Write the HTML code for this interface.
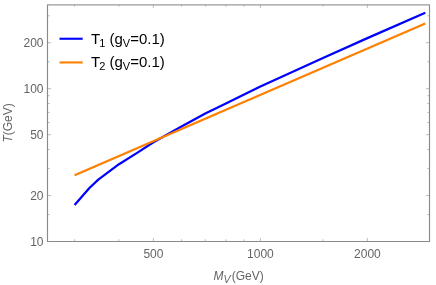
<!DOCTYPE html><html><head><meta charset="utf-8"><style>html,body{margin:0;padding:0;background:#fff}svg{display:block;will-change:transform;opacity:0.999}text{font-family:"Liberation Sans",sans-serif}</style></head><body>
<svg width="436" height="285" viewBox="0 0 436 285">
<rect width="436" height="285" fill="#fff"/>
<path d="M153.40 241.5v-3.6M153.40 4.5v3.6M260.39 241.5v-3.6M260.39 4.5v3.6M367.37 241.5v-3.6M367.37 4.5v3.6M74.55 241.5v-2.2M74.55 4.5v2.2M118.96 241.5v-2.2M118.96 4.5v2.2M181.54 241.5v-2.2M181.54 4.5v2.2M205.33 241.5v-2.2M205.33 4.5v2.2M225.94 241.5v-2.2M225.94 4.5v2.2M244.12 241.5v-2.2M244.12 4.5v2.2M322.97 241.5v-2.2M322.97 4.5v2.2M47.5 241.50h3.6M429.5 241.50h-3.6M47.5 195.50h3.6M429.5 195.50h-3.6M47.5 134.70h3.6M429.5 134.70h-3.6M47.5 88.70h3.6M429.5 88.70h-3.6M47.5 42.70h3.6M429.5 42.70h-3.6M47.5 214.59h2.2M429.5 214.59h-2.2M47.5 168.60h2.2M429.5 168.60h-2.2M47.5 149.51h2.2M429.5 149.51h-2.2M47.5 122.60h2.2M429.5 122.60h-2.2M47.5 112.37h2.2M429.5 112.37h-2.2M47.5 103.51h2.2M429.5 103.51h-2.2M47.5 95.69h2.2M429.5 95.69h-2.2M47.5 61.79h2.2M429.5 61.79h-2.2M47.5 15.80h2.2M429.5 15.80h-2.2" stroke="#7c7c7c" stroke-width="0.5" fill="none"/>
<path d="M47.5 4.9V241.5H429.5V4.9" fill="none" stroke="#8a8a8a" stroke-width="1.15" stroke-linejoin="miter"/>
<path d="M46.93 4.9H430.07" fill="none" stroke="#9a9a9a" stroke-width="1.15"/>
<polyline points="74.6,205.0 89.4,188.0 98.3,179.6 119.0,164.2 137.1,152.9 153.4,142.3 181.5,126.6 205.3,113.4 225.9,103.4 244.1,94.5 260.4,86.6 323.0,58.0 367.4,38.1 425.3,12.7" fill="none" stroke="#0000ff" stroke-width="2.25" stroke-linejoin="round"/>
<polyline points="74.6,175.2 425.3,23.5" fill="none" stroke="#ff8000" stroke-width="2.25" stroke-linejoin="round"/>
<text x="153.4" y="257.5" font-size="12" fill="#646464" text-anchor="middle">500</text>
<text x="260.4" y="257.5" font-size="12" fill="#646464" text-anchor="middle">1000</text>
<text x="367.4" y="257.5" font-size="12" fill="#646464" text-anchor="middle">2000</text>
<text x="43.5" y="245.8" font-size="12" fill="#646464" text-anchor="end">10</text>
<text x="43.5" y="199.8" font-size="12" fill="#646464" text-anchor="end">20</text>
<text x="43.5" y="139.0" font-size="12" fill="#646464" text-anchor="end">50</text>
<text x="43.5" y="93.0" font-size="12" fill="#646464" text-anchor="end">100</text>
<text x="43.5" y="47.0" font-size="12" fill="#646464" text-anchor="end">200</text>
<text x="213.5" y="280" font-size="12" fill="#646464"><tspan font-style="italic">M</tspan><tspan font-style="italic" font-size="10.5" dy="2.6">V</tspan><tspan dx="1.2" dy="-2.6">(GeV)</tspan></text>
<text transform="translate(12.1,142.6) rotate(-90)" font-size="12" fill="#646464"><tspan font-style="italic">T</tspan>(GeV)</text>
<line x1="59.5" x2="82.7" y1="38.75" y2="38.75" stroke="#0000ff" stroke-width="2.1"/>
<line x1="59.5" x2="82.7" y1="62.45" y2="62.45" stroke="#ff8000" stroke-width="2.1"/>
<text x="91.0" y="43.7" font-size="15" fill="#000">T<tspan font-size="11" dx="-1" dy="3.3">1</tspan><tspan dy="-3.3"> (g</tspan><tspan font-size="11" dy="3.3">V</tspan><tspan dy="-3.3">=0.1)</tspan></text>
<text x="91.0" y="67.1" font-size="15" fill="#000">T<tspan font-size="11" dx="-1" dy="3.3">2</tspan><tspan dy="-3.3"> (g</tspan><tspan font-size="11" dy="3.3">V</tspan><tspan dy="-3.3">=0.1)</tspan></text>
</svg></body></html>
